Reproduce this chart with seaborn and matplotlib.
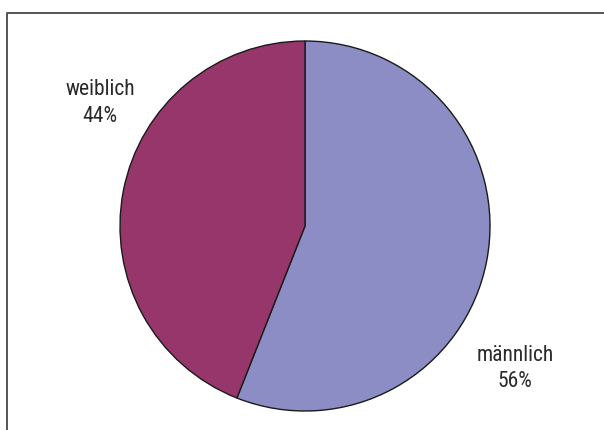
import numpy as np
import seaborn as sns
import matplotlib.pyplot as plt
from matplotlib.lines import Line2D

labels = ['männlich', 'weiblich']
shares = [56, 44]
colors = ['#8c8dc4', '#96366a']

sns.set_style('white')
plt.rcParams['font.family'] = ['Roboto Condensed', 'Liberation Sans', 'DejaVu Sans']

W, H = 604, 431
fig = plt.figure(figsize=(W / 100, H / 100), dpi=100)

# frame around the chart (left, top, right only)
fig.add_artist(Line2D([6.5 / W, 6.5 / W, 1.01], [-0.01, 1 - 13.5 / H, 1 - 13.5 / H],
                      transform=fig.transFigure, color='#555555', lw=1.4))

cx, cy, r = 305, 227, 185
ax = fig.add_axes([(cx - r) / W, (H - cy - r) / H, 2 * r / W, 2 * r / H])
ax.pie(shares, colors=sns.color_palette(colors), startangle=90, counterclock=False,
       radius=1, wedgeprops=dict(edgecolor='#1a1a1a', linewidth=1.0))
ax.set_xlim(-1, 1)
ax.set_ylim(-1, 1)
ax.set_aspect('equal')
ax.axis('off')

pos = {'männlich': (1.135, -0.765), 'weiblich': (-1.108, 0.67)}
for lab, val in zip(labels, shares):
    x, y = pos[lab]
    ax.text(x, y, f'{lab}\n{val}%', ha='center', va='center', fontsize=15.5,
            color='#2a2a2a', linespacing=1.35)

plt.savefig('out.png', dpi=100)
